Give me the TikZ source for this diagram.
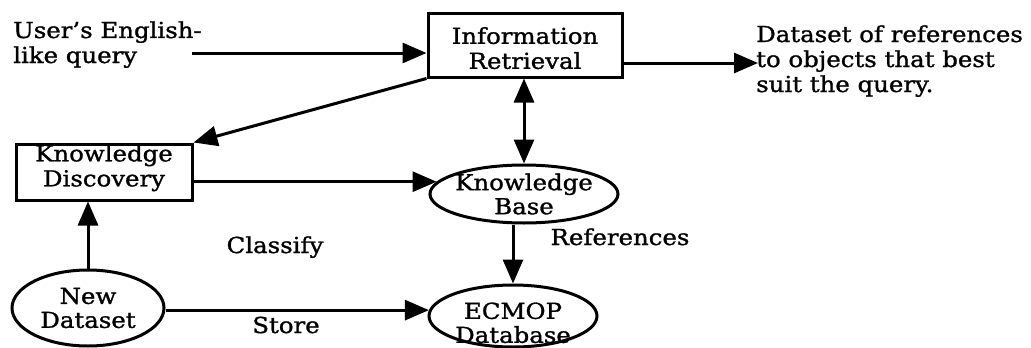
\documentclass[tikz,border=0pt]{standalone}
\usepackage{fontspec}
\setmainfont{DejaVu Serif}[FakeStretch=1.11,FakeBold=1.2]
\usetikzlibrary{arrows.meta,shapes.geometric}
\begin{document}
\begin{tikzpicture}[x=1pt,y=-1pt,
  txt/.style={font=\fontsize{22}{25}\selectfont, inner sep=0pt},
  boxn/.style={draw, line width=3pt, rectangle, inner sep=0pt, align=center, font=\fontsize{22}{25}\selectfont},
  elln/.style={draw, line width=3pt, ellipse, inner sep=-14pt, align=center, font=\fontsize{22}{24}\selectfont},
  conn/.style={line width=3pt, -{Triangle[length=24pt,width=20pt]}},
  dconn/.style={line width=3pt, {Triangle[length=24pt,width=20pt]}-{Triangle[length=24pt,width=20pt]}}
]
\useasboundingbox[fill=white] (0,0) rectangle (1031,348);

% nodes
\node[boxn, minimum width=194pt, minimum height=64pt, text height=48pt] (ir) at (525,45) {Information\\Retrieval};
\node[boxn, minimum width=176pt, minimum height=56pt, text depth=13pt] (kd) at (104,172) {Knowledge\\Discovery};
\node[elln, minimum width=188pt, minimum height=58pt] (kb) at (524,194) {Knowledge\\Base};
\node[elln, minimum width=168pt, minimum height=62pt, text height=54pt] (ec) at (513,316) {ECMOP\\Database};
\node[elln, minimum width=152pt, minimum height=76pt] (nd) at (88,308) {New\\Dataset};

% free texts
\node[txt, align=left, anchor=base west] (query) at (13,63) {User's English-\\like query};
\node[txt, align=left, anchor=base west] (result) at (756,92) {Dataset of references\\to objects that best\\suit the query.};
\node[txt, anchor=base] (classify) at (275,253) {Classify};
\node[txt, anchor=base] (store) at (286,333) {Store};
\node[txt, anchor=base] (refs) at (620,245) {References};

% connectors
\coordinate (qs) at (192,53);
\coordinate (ot) at (758,63);
\draw[conn] (qs) -- (qs -| ir.west);
\draw[conn] (ot -| ir.east) -- (ot);
\draw[conn] (ir.south west) -- (kd.north east);
\draw[dconn] (ir.south -| kb.north) -- (kb.north);
\draw[conn] (kd.east |- kb.172) -- (kb.172);
\draw[conn] (kb.south -| ec.north) -- (ec.north);
\draw[conn] (nd.north) -- (nd.north |- kd.south);
\draw[conn] (nd.east |- ec.176) -- (ec.176);
\end{tikzpicture}
\end{document}
